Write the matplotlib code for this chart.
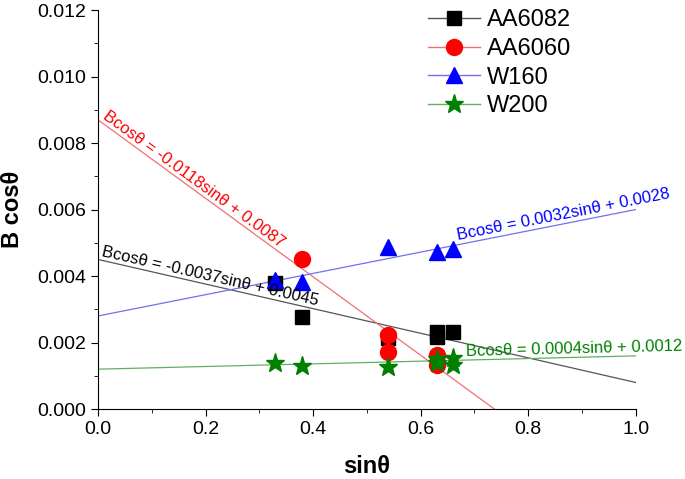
import numpy as np
import matplotlib
matplotlib.use("Agg")
import matplotlib.pyplot as plt
from matplotlib.ticker import MultipleLocator, FormatStrFormatter
from matplotlib.lines import Line2D

plt.rcParams['font.family'] = ['Liberation Sans', 'DejaVu Sans']

series = ["AA6082", "AA6060", "W160", "W200"]
x_6082 = [0.33, 0.38, 0.54, 0.63, 0.63, 0.66]
y_6082 = [0.0038, 0.00278, 0.00214, 0.00217, 0.00232, 0.00231]
x_6060 = [0.38, 0.54, 0.54, 0.63, 0.63]
y_6060 = [0.00450, 0.00223, 0.00172, 0.00163, 0.00134]
x_w160 = [0.33, 0.38, 0.54, 0.63, 0.66]
y_w160 = [0.00389, 0.00382, 0.00487, 0.00472, 0.00480]
x_w200 = [0.33, 0.38, 0.54, 0.63, 0.63, 0.66, 0.66]
y_w200 = [0.00140, 0.00130, 0.00126, 0.00150, 0.00140, 0.00155, 0.00133]

slopes = [-0.0037, -0.0118, 0.0032, 0.0004]
intercepts = [0.0045, 0.0087, 0.0028, 0.0012]
labels = ["Bcosθ = -0.0037sinθ + 0.0045", "Bcosθ = -0.0118sinθ + 0.0087",
          "Bcosθ = 0.0032sinθ + 0.0028", "Bcosθ = 0.0004sinθ + 0.0012"]
label_x = [0.005, 0.005, 0.67, 0.684]

colors = ['black', 'red', 'blue', 'green']
line_colors = ['#555555', '#f07070', '#7070f0', '#60b060']
markers = ['s', 'o', '^', '*']
msizes = [10, 11.5, 11.5, 14]

fig = plt.figure(figsize=(6.85, 4.79), dpi=100)
ax = fig.add_axes([0.143, 0.146, 0.785, 0.833])
ax.set_xlim(0, 1.0)
ax.set_ylim(0, 0.012)

xs = [x_6082, x_6060, x_w160, x_w200]
ys = [y_6082, y_6060, y_w160, y_w200]
xx = np.linspace(0, 1, 200)
for i in range(4):
    yy = slopes[i] * xx + intercepts[i]
    ax.plot(xx, yy, color=line_colors[i], lw=0.9, zorder=1)
    ax.plot(xs[i], ys[i], linestyle='none', marker=markers[i], color=colors[i],
            markersize=msizes[i], zorder=3)

handles = [Line2D([0], [0], color=line_colors[i], lw=1, marker=markers[i],
                  markerfacecolor=colors[i], markeredgecolor=colors[i],
                  markersize=msizes[i]) for i in range(4)]
ax.legend(handles, series, loc='upper left', bbox_to_anchor=(0.574, 1.055),
          frameon=False, fontsize=17, handlelength=2.2, labelspacing=0.28,
          handletextpad=0.3)

fig.canvas.draw()
for i in range(4):
    x0 = label_x[i]
    y0 = slopes[i] * x0 + intercepts[i]
    p0 = ax.transData.transform((0, intercepts[i]))
    p1 = ax.transData.transform((1, slopes[i] + intercepts[i]))
    ang = np.degrees(np.arctan2(p1[1] - p0[1], p1[0] - p0[0]))
    ax.annotate(labels[i], (x0, y0), xytext=(0, 1.0), textcoords='offset points',
                rotation=ang, rotation_mode='anchor', ha='left', va='bottom',
                color=colors[i], fontsize=12, annotation_clip=False, zorder=4)

ax.spines['top'].set_visible(False)
ax.spines['right'].set_visible(False)
ax.xaxis.set_major_locator(MultipleLocator(0.2))
ax.xaxis.set_minor_locator(MultipleLocator(0.1))
ax.yaxis.set_major_locator(MultipleLocator(0.002))
ax.yaxis.set_minor_locator(MultipleLocator(0.001))
ax.xaxis.set_major_formatter(FormatStrFormatter('%.1f'))
ax.yaxis.set_major_formatter(FormatStrFormatter('%.3f'))
ax.tick_params(which='major', length=5, labelsize=14)
ax.tick_params(which='minor', length=3)
ax.set_xlabel('sinθ', fontsize=17, fontweight='bold', labelpad=12)
ax.set_ylabel('B cosθ', fontsize=17, fontweight='bold', va='center', ha='center')
ax.yaxis.set_label_coords(-0.158, 0.5)

fig.savefig('out.png', dpi=100)
